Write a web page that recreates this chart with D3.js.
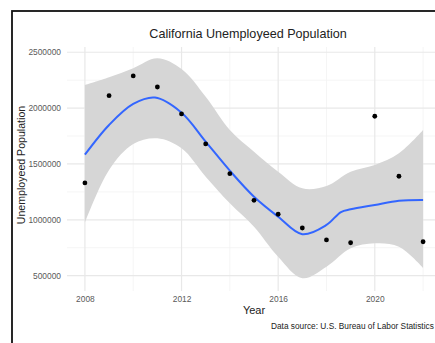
<!DOCTYPE html>
<html lang="en">
<head>
<meta charset="UTF-8">
<title>California Unemployeed Population</title>
<script src="https://cdn.jsdelivr.net/npm/d3@7"></script>
<style>
  body { margin: 0; background: #fff; }
  svg { display: block; font-family: "Liberation Sans", Arial, sans-serif; }
</style>
</head>
<body>
<script>
// observed points
const years = [2008, 2009, 2010, 2011, 2012, 2013, 2014, 2015, 2016, 2017, 2018, 2019, 2020, 2021, 2022]
const unemployed = [1330000, 2111000, 2288000, 2189000, 1948000, 1679000, 1413000, 1175000, 1050000, 927000, 820000, 795000, 1927000, 1390000, 804000]

// smoothed fit and its band
const fitYears = [2008, 2009, 2010, 2010.9, 2012, 2013, 2014, 2015, 2016, 2017, 2018, 2018.6, 2019, 2020, 2021, 2022]
const fitValues = [1583000, 1849000, 2037000, 2094000, 1959000, 1700000, 1440000, 1207000, 1028000, 871000, 954000, 1070000, 1094000, 1133000, 1171000, 1178000]
const bandYears = [2008, 2009, 2010, 2011, 2012, 2013, 2014, 2015, 2016, 2017, 2018, 2019, 2020, 2021, 2022]
const bandUpper = [2207000, 2276000, 2357000, 2446000, 2350000, 2102000, 1804000, 1610000, 1431000, 1282000, 1303000, 1431000, 1491000, 1596000, 1804000]
const bandLower = [975000, 1446000, 1679000, 1730000, 1640000, 1386000, 1148000, 939000, 670000, 477000, 580000, 745000, 790000, 760000, 570000]

const yTicks = [500000, 1000000, 1500000, 2000000, 2500000]
const yMinor = [750000, 1250000, 1750000, 2250000]
const xTicks = [2008, 2012, 2016, 2020]
const xMinor = [2010, 2014, 2018, 2022]

const w = 435, h = 343
const panel = {left: 67, right: 440, top: 47, bottom: 291}

const svg = d3.select("body").append("svg").attr("width", w).attr("height", h)

const x = d3.scaleLinear().domain([2007.3, 2022.7]).range([panel.left + 1, panel.right])
const y = d3.scaleLinear().domain([363000, 2547000]).range([panel.bottom, panel.top])

svg.append("defs").append("clipPath").attr("id", "clip")
  .append("rect")
  .attr("x", panel.left).attr("y", panel.top)
  .attr("width", panel.right - panel.left).attr("height", panel.bottom - panel.top)

// outer frame
svg.append("rect").attr("x", 12).attr("y", 11).attr("width", 440).attr("height", 340)
  .attr("fill", "none").attr("stroke", "#111").attr("stroke-width", 1.8)

// grid
const grid = svg.append("g").attr("clip-path", "url(#clip)")
grid.selectAll(".ymin").data(yMinor).enter().append("line")
  .attr("x1", panel.left).attr("x2", panel.right)
  .attr("y1", d => y(d)).attr("y2", d => y(d))
  .attr("stroke", "#f2f2f2").attr("stroke-width", 0.8)
grid.selectAll(".xmin").data(xMinor).enter().append("line")
  .attr("y1", panel.top).attr("y2", panel.bottom)
  .attr("x1", d => x(d)).attr("x2", d => x(d))
  .attr("stroke", "#f2f2f2").attr("stroke-width", 0.8)
grid.selectAll(".ymaj").data(yTicks).enter().append("line")
  .attr("x1", panel.left).attr("x2", panel.right)
  .attr("y1", d => y(d)).attr("y2", d => y(d))
  .attr("stroke", "#e8e8e8").attr("stroke-width", 1.2)
grid.selectAll(".xmaj").data(xTicks).enter().append("line")
  .attr("y1", panel.top).attr("y2", panel.bottom)
  .attr("x1", d => x(d)).attr("x2", d => x(d))
  .attr("stroke", "#e8e8e8").attr("stroke-width", 1.2)

const band = bandYears.map((d, i) => ({year: d, lo: bandLower[i], hi: bandUpper[i]}))
const fit = fitYears.map((d, i) => ({year: d, value: fitValues[i]}))
const points = years.map((d, i) => ({year: d, value: unemployed[i]}))

const plot = svg.append("g").attr("clip-path", "url(#clip)")

plot.append("path").datum(band)
  .attr("fill", "#d6d6d6")
  .attr("d", d3.area().curve(d3.curveCatmullRom.alpha(0.5))
    .x(d => x(d.year)).y0(d => y(d.lo)).y1(d => y(d.hi)))

plot.append("path").datum(fit)
  .attr("fill", "none").attr("stroke", "#3366ff").attr("stroke-width", 2)
  .attr("d", d3.line().curve(d3.curveCatmullRom.alpha(0.5))
    .x(d => x(d.year)).y(d => y(d.value)))

plot.selectAll("circle").data(points).enter().append("circle")
  .attr("cx", d => x(d.year)).attr("cy", d => y(d.value))
  .attr("r", 2.4).attr("fill", "#000")

// axes
const yAxis = svg.append("g").attr("transform", `translate(${panel.left - 3},0)`)
  .call(d3.axisLeft(y).tickValues(yTicks).tickSize(0).tickFormat(d3.format("d")))
yAxis.select(".domain").remove()
yAxis.selectAll("text").attr("fill", "#5a5a5a").attr("font-size", 8.4).attr("font-family", "Liberation Sans, Arial, sans-serif")

const xAxis = svg.append("g").attr("transform", `translate(0,${panel.bottom + 2})`)
  .call(d3.axisBottom(x).tickValues(xTicks).tickSize(0).tickFormat(d3.format("d")))
xAxis.select(".domain").remove()
xAxis.selectAll("text").attr("fill", "#5a5a5a").attr("font-size", 8.4).attr("font-family", "Liberation Sans, Arial, sans-serif")

// titles
svg.append("text").attr("x", 248).attr("y", 38).attr("text-anchor", "middle")
  .attr("font-size", 12.6).attr("fill", "#222").text("California Unemployeed Population")

svg.append("text").attr("transform", "translate(25,165) rotate(-90)").attr("text-anchor", "middle")
  .attr("font-size", 10.6).attr("fill", "#222").text("Unemployeed Population")

svg.append("text").attr("x", 254).attr("y", 314).attr("text-anchor", "middle")
  .attr("font-size", 11).attr("fill", "#222").text("Year")

svg.append("text").attr("x", 271).attr("y", 329)
  .attr("font-size", 8.3).attr("fill", "#222").text("Data source: U.S. Bureau of Labor Statistics")
</script>
</body>
</html>
